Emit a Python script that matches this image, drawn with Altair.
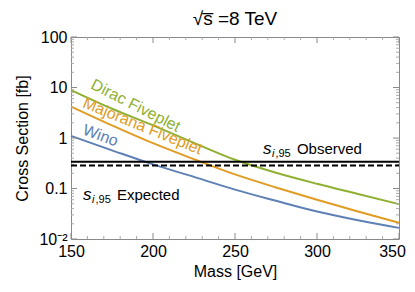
import altair as alt
import pandas as pd

# ---- data ----
mass = [150, 175, 200, 225, 250, 275, 300, 325, 350]
dirac = [8.9, 3.8, 1.78, 0.80, 0.37, 0.205, 0.124, 0.078, 0.049]
majorana = [4.2, 1.78, 0.79, 0.38, 0.19, 0.105, 0.060, 0.035, 0.021]
wino = [1.10, 0.57, 0.30, 0.17, 0.095, 0.057, 0.035, 0.0235, 0.0166]
observed = 0.34
expected = 0.285

x_major = [150, 200, 250, 300, 350]
x_minor = [m for m in range(150, 351, 10) if m not in x_major]
y_major = [0.01, 0.1, 1, 10, 100]
y_minor = [k * d for d in [0.01, 0.1, 1, 10] for k in range(2, 10)]

series_names = ["Dirac Fiveplet", "Majorana Fiveplet", "Wino"]
series_colors = ["#8FB032", "#E19C24", "#5E81B5"]

W, H = 328, 202
FONT = "Liberation Sans"
GRAY = "#8a8a8a"

rows = []
for name, vals in zip(series_names, [dirac, majorana, wino]):
    for m, v in zip(mass, vals):
        rows.append({"mass": m, "xs": v, "series": name})
curves = pd.DataFrame(rows)

xs = alt.Scale(domain=[150, 350], nice=False, zero=False)
ys = alt.Scale(type="log", domain=[0.01, 100], nice=False)

xaxis = alt.Axis(values=x_major, ticks=False, domain=False, grid=False, labelFlush=False,
                 labelOffset={"condition": {"test": "datum.value >= 349", "value": -7}, "value": 0},
                 labelFontSize=16, labelFont=FONT, labelColor="black",
                 labelPadding=4, titleFontSize=16, titleFont=FONT,
                 titleFontWeight="normal", titlePadding=4, titleColor="black")
yaxis = alt.Axis(values=y_major, ticks=False, domain=False, grid=False, labelFlush=False,
                 labelExpr="datum.value < 0.05 ? '10⁻²' : datum.value < 0.5 ? '0.1' : format(datum.value, 'd')",
                 labelFontSize=16, labelFont=FONT, labelColor="black",
                 labelPadding=4, titleFontSize=16, titleFont=FONT,
                 titleFontWeight="normal", titlePadding=8, titleColor="black")

def X(field):
    return alt.X(field, scale=xs, axis=xaxis, title="Mass [GeV]")

def Y(field):
    return alt.Y(field, scale=ys, axis=yaxis, title="Cross Section [fb]")

lines = alt.Chart(curves).mark_line(strokeWidth=2, interpolate="monotone").encode(
    x=X("mass:Q"), y=Y("xs:Q"),
    color=alt.Color("series:N", scale=alt.Scale(domain=series_names, range=series_colors), legend=None),
)

hl = pd.DataFrame({"v": [observed, expected], "kind": ["obs", "exp"]})
obs_line = alt.Chart(hl[hl.kind == "obs"]).mark_rule(color="black", strokeWidth=2).encode(
    y=Y("v:Q"), x=alt.value(0), x2=alt.value(W))
exp_line = alt.Chart(hl[hl.kind == "exp"]).mark_rule(color="black", strokeWidth=2, strokeDash=[6, 3]).encode(
    y=Y("v:Q"), x=alt.value(0), x2=alt.value(W))

# curve labels
lab = pd.DataFrame({
    "mass": [161.5, 156.5, 156.5],
    "xs": [9.8, 4.1, 1.2],
    "text": series_names,
})
angles = [27, 22, 20]
label_layers = []
for i, name in enumerate(series_names):
    label_layers.append(
        alt.Chart(lab[lab.text == name]).mark_text(
            align="left", baseline="alphabetic", fontSize=16, font=FONT,
            color=series_colors[i], angle=angles[i]
        ).encode(x=X("mass:Q"), y=Y("xs:Q"), text="text:N")
    )

# s_{i,95} annotations
ann = pd.DataFrame({"mass": [267.0, 157.3], "xs": [0.48, 0.059], "word": ["Observed", "Expected"]})
def annot(df):
    base = alt.Chart(df).encode(x=X("mass:Q"), y=Y("xs:Q"))
    s = base.mark_text(align="left", baseline="alphabetic", fontSize=17, font=FONT,
                       fontStyle="italic", color="black").encode(text=alt.value("s"))
    sub_i = base.mark_text(align="left", baseline="alphabetic", fontSize=11, font=FONT,
                           fontStyle="italic", color="black", dx=9, dy=3).encode(text=alt.value("i"))
    sub_n = base.mark_text(align="left", baseline="alphabetic", fontSize=11, font=FONT,
                           color="black", dx=12.5, dy=3).encode(text=alt.value(",95"))
    w = base.mark_text(align="left", baseline="alphabetic", fontSize=15, font=FONT,
                       color="black", dx=34).encode(text="word:N")
    return [s, sub_i, sub_n, w]

ann_layers = annot(ann[ann.word == "Observed"]) + annot(ann[ann.word == "Expected"])

# inward frame ticks
xmaj = pd.DataFrame({"v": x_major})
xmin = pd.DataFrame({"v": x_minor})
ymaj = pd.DataFrame({"v": y_major})
ymin = pd.DataFrame({"v": y_minor})

def xticks(df, L, color):
    b = alt.Chart(df).mark_rule(color=color, strokeWidth=1).encode(x=X("v:Q"))
    return [b.encode(y=alt.value(H), y2=alt.value(H - L)), b.encode(y=alt.value(0), y2=alt.value(L))]

def yticks(df, L, color):
    b = alt.Chart(df).mark_rule(color=color, strokeWidth=1).encode(y=Y("v:Q"))
    return [b.encode(x=alt.value(0), x2=alt.value(L)), b.encode(x=alt.value(W), x2=alt.value(W - L))]

tick_layers = (xticks(xmaj, 6, GRAY) + xticks(xmin, 3, "#aaaaaa")
               + yticks(ymaj, 6, GRAY) + yticks(ymin, 3, "#aaaaaa"))

chart = alt.layer(lines, *tick_layers, obs_line, exp_line, *label_layers, *ann_layers).properties(
    width=W, height=H,
    title=alt.TitleParams(text="√s̅ =8 TeV", fontSize=19, font=FONT, fontWeight="normal",
                          color="black", offset=0, frame="group"),
    autosize=alt.AutoSizeParams(type="none"),
    padding={"left": 63, "top": 29, "right": 8, "bottom": 45},
    background="white",
).configure_view(stroke=GRAY, strokeWidth=1)

chart.save("out.html", embed_options={"renderer": "svg", "actions": False})
